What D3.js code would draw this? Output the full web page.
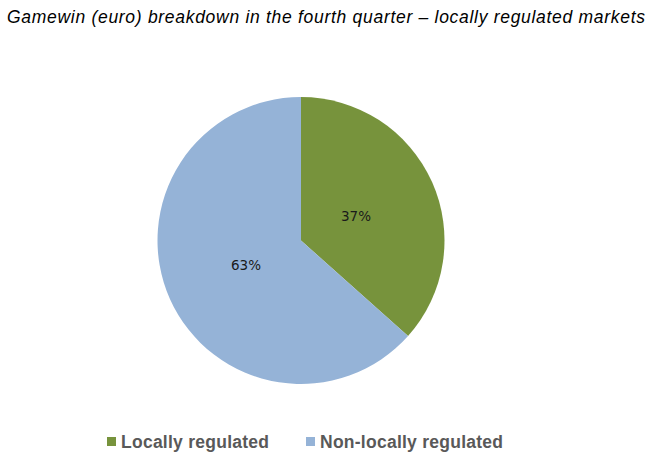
<!DOCTYPE html>
<html>
<head>
<meta charset="utf-8">
<script src="https://cdn.jsdelivr.net/npm/d3@7"></script>
<style>
  body { margin: 0; background: #fff; }
</style>
</head>
<body>
<div id="chart"></div>
<script>
// chart data
const categories = ["Locally regulated", "Non-locally regulated"];
const values = [36.6, 63.4];
const labels = ["37%", "63%"];
const colors = ["#77933c", "#95b3d7"];

const width = 659, height = 468;

const svg = d3.select("#chart").append("svg")
    .attr("width", width)
    .attr("height", height);

// title
svg.append("text")
    .attr("x", 7)
    .attr("y", 23)
    .attr("font-family", "Liberation Sans, Arial, sans-serif")
    .attr("font-style", "italic")
    .attr("font-size", 17.5)
    .attr("textLength", 638)
    .attr("lengthAdjust", "spacing")
    .attr("fill", "#000")
    .text("Gamewin (euro) breakdown in the fourth quarter \u2013 locally regulated markets");

const cx = 301, cy = 240.5, r = 143.5;

const pie = d3.pie().sort(null).value(d => d);
const arc = d3.arc().innerRadius(0).outerRadius(r);
const labelArc = d3.arc().innerRadius(r * 0.42).outerRadius(r * 0.42);

const g = svg.append("g")
    .attr("transform", `translate(${cx},${cy})`);

const slices = pie(values);

g.selectAll("path")
    .data(slices)
    .join("path")
    .attr("d", arc)
    .attr("fill", (d, i) => colors[i]);

g.selectAll("text.lbl")
    .data(slices)
    .join("text")
    .attr("class", "lbl")
    .attr("transform", d => `translate(${labelArc.centroid(d)})`)
    .attr("text-anchor", "middle")
    .attr("dy", "0.35em")
    .attr("font-family", "DejaVu Sans, Verdana, sans-serif")
    .attr("font-size", 13.5)
    .attr("fill", "#1a1a1a")
    .text((d, i) => labels[i]);

// legend
const legendX = [107, 306];
const legendW = [148, 183];
const legend = svg.append("g");
categories.forEach((c, i) => {
    legend.append("rect")
        .attr("x", legendX[i])
        .attr("y", 437)
        .attr("width", 9)
        .attr("height", 9)
        .attr("fill", colors[i]);
    legend.append("text")
        .attr("x", legendX[i] + 14)
        .attr("y", 448)
        .attr("font-family", "Liberation Sans, Arial, sans-serif")
        .attr("font-weight", "bold")
        .attr("font-size", 17.5)
        .attr("textLength", legendW[i])
        .attr("lengthAdjust", "spacing")
        .attr("fill", "#595959")
        .text(c);
});
</script>
</body>
</html>
